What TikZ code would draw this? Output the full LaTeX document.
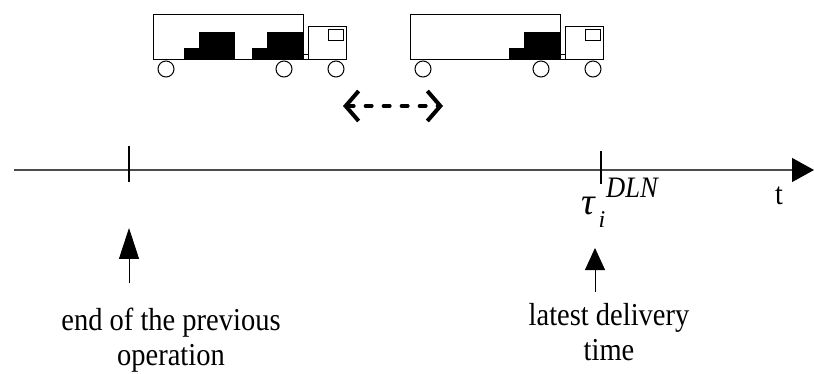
\documentclass[tikz,border=0pt]{standalone}
\usepackage{fontspec}
\setmainfont{Liberation Serif}
\usetikzlibrary{arrows.meta}

% trailer with cab and wheels, origin at the trailer's top left corner
\tikzset{
  lorry/.pic={
    \draw[line width=1pt] (0,0) rectangle (150,45);
    \draw[line width=1pt] (155,12) rectangle (193,45);
    \draw[line width=1pt] (175,15) rectangle (190,26);
    \draw[line width=1pt] (150,40) -- (155,40) (150,45) -- (155,45);
    \foreach \wx in {13,131,183}
      \draw[line width=1pt] (\wx,54) circle (8);
  },
  load/.pic={
    \fill (0,16) rectangle (15,28);
    \fill (15,0) rectangle (51,28);
  },
}

\begin{document}
\begin{tikzpicture}[x=1pt, y=-1pt,
    axisline/.style={line width=1.2pt, black!70},
    tickmark/.style={line width=2pt},
    pointer/.style={-{Triangle[length=#1,width=20pt]}, line width=1pt},
    tall/.style={inner sep=0pt, yscale=1.12},
    caption/.style={tall, font=\fontsize{28.5}{31}\selectfont, align=center},
    swap/.style={{Straight Barb[length=13pt,width=30pt]}-{Straight Barb[length=13pt,width=30pt]},
                 line width=4pt, line cap=round, dash pattern=on 6pt off 12pt}]
  \useasboundingbox (0,0) rectangle (814,374);

  % the two lorries
  \pic at (153,15) {lorry};
  \pic at (184,32) {load};
  \pic at (252,32) {load};
  \pic at (410,15) {lorry};
  \pic at (509,32) {load};

  \coordinate (swapL) at (343,106);
  \coordinate (swapR) at (443,106);
  \draw[swap] (swapL) -- (swapR);

  % time axis
  \coordinate (start) at (14,170);
  \coordinate (end) at (814,170);
  \draw[axisline, -{Triangle[length=22pt,width=24pt,black]}] (start) -- (end);
  \node[tall, anchor=base] (t) at (779,205) {\fontsize{28}{28}\selectfont t};

  \coordinate (prev) at (129,170);
  \coordinate (dln) at (601,170);
  \draw[tickmark] ([yshift=24pt]prev) -- ([yshift=-12pt]prev);
  \draw[tickmark] ([yshift=19pt]dln) -- ([yshift=-14pt]dln);

  \node[inner sep=0pt, anchor=base] (tau) at (588,215) {\fontsize{38}{38}\selectfont\itshape τ};
  \node[inner sep=0pt, anchor=base] (taui) at (602,228) {\fontsize{24}{24}\selectfont\itshape i};
  \node[tall, anchor=base west] (taudln) at (606,198) {\fontsize{26.5}{26.5}\selectfont\itshape DLN};

  % pointers with their captions
  \coordinate (prevtip) at (129,228);
  \coordinate (prevtail) at (129,283);
  \coordinate (dlntip) at (595,248);
  \coordinate (dlntail) at (595,292);
  \draw[pointer=31pt] (prevtail) -- (prevtip);
  \draw[pointer=22pt] (dlntail) -- (dlntip);

  \node[caption, anchor=north] (prevlabel) at (171,308) {end of the previous\\operation};
  \node[caption, anchor=north] (dlnlabel) at (609,303) {latest delivery\\time};
\end{tikzpicture}
\end{document}
